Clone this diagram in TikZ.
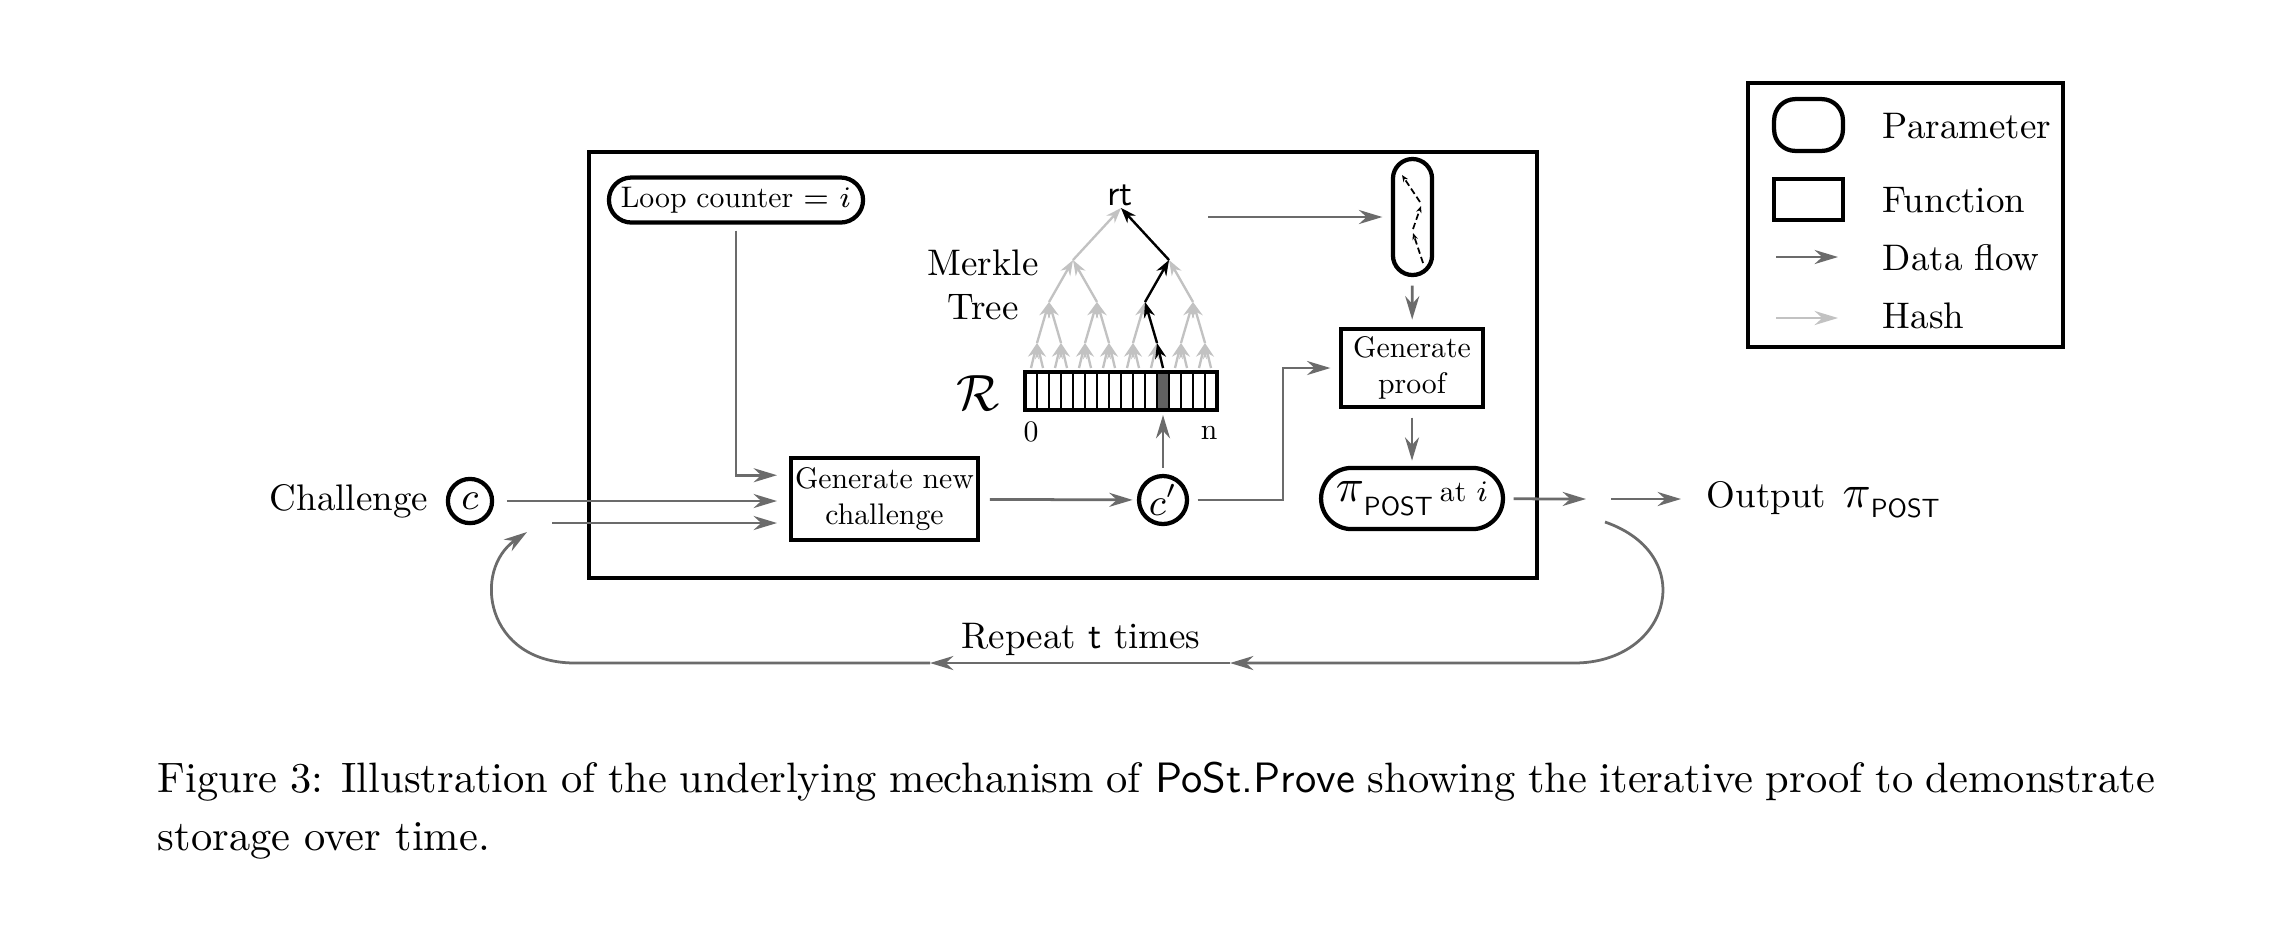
\documentclass[tikz,border=0pt]{standalone}
\usepackage{amsmath}
\usepackage{fontspec}
\setmainfont{lmroman10-regular}[Extension=.otf, BoldFont=lmroman10-bold, ItalicFont=lmroman10-italic]
\setsansfont{lmsans10-regular}[Extension=.otf, BoldFont=lmsans10-bold, ItalicFont=lmsans10-oblique]
\usetikzlibrary{arrows.meta,positioning}

\definecolor{flowgray}{gray}{0.42}
\definecolor{hashgray}{gray}{0.76}
\definecolor{cellgray}{gray}{0.38}

\newcommand{\dsmall}{\fontsize{7}{8.4}\selectfont}
\newcommand{\dmid}{\fontsize{8.7}{10.4}\selectfont}
\newcommand{\dbig}{\fontsize{10}{12}\selectfont}
\newcommand{\piPOST}[1]{{\fontsize{10.5}{12}\selectfont$\pi$}\raisebox{-#1}{\sffamily\fontsize{6.2}{7}\selectfont POST}}

\begin{document}
\begin{tikzpicture}[
x=0.2353pt, y=-0.2353pt,
param/.style = {draw, line width=1pt, rounded corners=#1, inner sep=0pt},
param/.default = 5pt,
func/.style = {draw, line width=1pt, inner sep=0pt, align=center, font=\dsmall},
chal/.style = {draw, circle, line width=1pt, inner sep=0pt, minimum size=#1, font=\dmid},
lbl/.style = {inner sep=0pt, font=\dmid},
flow/.style = {draw=flowgray, line width=0.65pt, -{Stealth[length=5.5pt,width=3.3pt]}},
hash/.style = {draw=hashgray, line width=0.55pt, -{Stealth[length=3.6pt,width=2.6pt]}},
pathhash/.style = {hash, draw=black},
minipath/.style = {line width=0.4pt, dash pattern=on 1.5pt off 0.8pt, -{Stealth[length=1.6pt,width=1.3pt]}},
frame/.style = {line width=1.1pt}
                        ]
\useasboundingbox (0,0) rectangle (2296,948);
\fill[white] (0,0) rectangle (2296,948);

% outer frame
\draw[frame] (589,152) rectangle (1537,578);

    \node[param=5.3pt, minimum width=59.8pt, minimum height=10.6pt, font=\dsmall] (loop) at (736,200) {Loop counter $=$ $i$};
    \node[func, minimum width=44pt, minimum height=19.3pt] (gnc) at (884.5,499) {Generate new\\challenge};
    \node[chal=10.4pt] (c) at (470,501) {$c$};
    \node[lbl, left=4pt of c] (chaltxt) {Challenge};
    \node[chal=11.3pt] (cp) at (1163,500) {$c'$};

% storage array
\fill[cellgray] (1157,372) rectangle (1169,410);
\foreach \k in {1,...,15} \draw[line width=0.35pt] ({1025+12*\k},372) -- ({1025+12*\k},410);
    \node[draw, line width=1pt, minimum width=45.2pt, minimum height=8.9pt, inner sep=0pt] (arr) at (1121,391) {};
    \node[lbl, font=\fontsize{11.5}{13}\selectfont] (rset) at (978,393) {$\mathcal{R}$};
    \node[lbl, font=\dsmall] (zero) at (1031,432) {0};
    \node[lbl, font=\dsmall] (nn) at (1209,433) {n};
    \node[lbl, align=center] (merkle) at (983,285) {Merkle\\Tree};
    \node[lbl, font=\sffamily\fontsize{8.5}{10}\selectfont] (rt) at (1120,195) {rt};

% merkle tree
\foreach \k in {0,...,15} \coordinate (t0-\k) at ({1031+12*\k},368);
\foreach \k in {0,...,7} \coordinate (t1-\k) at ({1037+24*\k},343);
\foreach \k in {0,...,3} \coordinate (t2-\k) at ({1049+48*\k},302);
\foreach \k in {0,1} \coordinate (t3-\k) at ({1073+96*\k},260);
\coordinate (root) at (1121,208);
\foreach \k in {0,...,15} {\pgfmathtruncatemacro{\p}{\k/2} \draw[hash] (t0-\k) -- (t1-\p);}
\foreach \k in {0,...,7} {\pgfmathtruncatemacro{\p}{\k/2} \draw[hash] (t1-\k) -- (t2-\p);}
\foreach \k in {0,...,3} {\pgfmathtruncatemacro{\p}{\k/2} \draw[hash] (t2-\k) -- (t3-\p);}
\foreach \k in {0,1} \draw[hash] (t3-\k) -- (root);
\draw[pathhash] (t0-11) -- (t1-5);
\draw[pathhash] (t1-5) -- (t2-2);
\draw[pathhash] (t2-2) -- (t3-1);
\draw[pathhash] (t3-1) -- (root);

% proof path
    \node[param=4.6pt, minimum width=9.2pt, minimum height=27.3pt] (pp) at (1412.5,217) {};
\draw[minipath] (1420,202) -- (1402,175);
\draw[minipath] (1413,229) -- (1421,206);
\draw[minipath] (1423,263) -- (1413,233);
    \node[func, minimum width=33.4pt, minimum height=18.4pt] (gp) at (1412,368) {Generate\\proof};
    \node[param=7.2pt, minimum width=42.8pt, minimum height=14.4pt] (pi) at (1412,498.5) {\piPOST{3.4pt}\,{\dsmall at $i$}};

    \coordinate (back) at (552,523);
    \coordinate (bend) at (1283,368);
    \coordinate (rtout) at (1208,217);
    \coordinate (piout) at (1586,499);
    \coordinate (outa) at (1611,499);
    \coordinate (outb) at (1681,499);
    \node[lbl, anchor=base west] (outtxt) at (1706,507) {Output\hspace{1pt} \piPOST{2.4pt}};

\draw[flow, shorten <=1.4pt, shorten >=2.8pt] (loop.south) |- ([yshift=5.6pt]gnc.west);
\draw[flow, shorten <=3pt, shorten >=2.8pt] (c) -- (c -| gnc.west);
\draw[flow, shorten >=2.8pt] (back) -- (back -| gnc.west);
\draw[flow, shorten <=2.3pt, shorten >=1pt] (gnc) -- (cp);
\draw[flow, shorten <=1.5pt, shorten >=0.7pt] (cp) -- (cp |- arr.south);
\draw[flow, shorten <=2pt, shorten >=2pt] (cp.east) -| (bend) -- (gp.west);
\draw[flow, shorten >=2pt] (rtout) -- (pp.west);
\draw[flow, shorten <=2pt, shorten >=1.7pt] (pp) -- (gp);
\draw[flow, shorten <=2pt, shorten >=1.2pt] (gp) -- (pi);
\draw[flow, shorten <=2pt] (pi) -- (piout);
\draw[flow] (outa) -- (outb);

% repeat loop
    \coordinate (loopa) at (1605,522);
    \coordinate (loopb) at (1230,663);
    \coordinate (loopc) at (930,663);
    \coordinate (loopd) at (527,532);
\draw[flow] (loopa) .. controls (1700,555) and (1670,663) .. (1574,663) -- (loopb);
\draw[flow] (loopb) -- (loopc);
\draw[flow] (loopc) -- (575,663) .. controls (485,663) and (472,570) .. (loopd);
    \node[lbl, anchor=base] (rep) at (1081,648) {Repeat \textsf{t} times};

% legend
\draw[line width=1pt] (1748,83) rectangle (2063,347);
    \node[param=5pt, minimum width=16.2pt, minimum height=12.2pt] (lpar) at (1808.5,125) {};
    \node[func, minimum width=16.2pt, minimum height=9.6pt] (lfun) at (1808.5,199.5) {};
    \coordinate (lfa) at (1776,257);
    \coordinate (lfb) at (1838,257);
    \coordinate (lha) at (1776,318);
    \coordinate (lhb) at (1838,318);
\draw[flow] (lfa) -- (lfb);
\draw[hash, line width=0.65pt, -{Stealth[length=5.5pt,width=3.3pt]}] (lha) -- (lhb);
    \node[lbl, anchor=base west] (tpar) at (1882,138) {Parameter};
    \node[lbl, anchor=base west] (tfun) at (1882,212) {Function};
    \node[lbl, anchor=base west] (tflow) at (1882,270) {Data flow};
    \node[lbl, anchor=base west] (thash) at (1882,328) {Hash};

% caption
    \node[anchor=base west, inner sep=0pt, font=\dbig] (cap1) at (157,792) {\makebox[470pt][s]{Figure 3: Illustration of the underlying mechanism of \textsf{PoSt.Prove} showing the iterative proof to demonstrate}};
    \node[anchor=base west, inner sep=0pt, font=\dbig] (cap2) at (157,850) {storage over time.};

\end{tikzpicture}
\end{document}
